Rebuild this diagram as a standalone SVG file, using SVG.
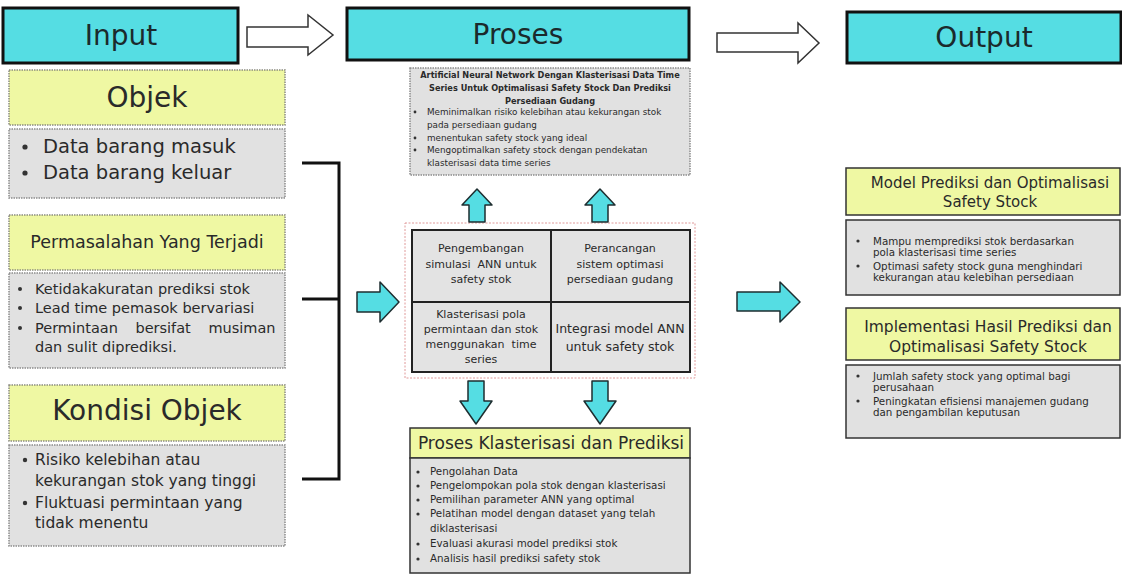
<svg xmlns="http://www.w3.org/2000/svg" width="1122" height="574" viewBox="0 0 1122 574">
<style>
.bg{fill:#ffffff}
.hdr{fill:#55dde3;stroke:#111;stroke-width:3}
.ybox{fill:#eff8a3;stroke:#8c8c80;stroke-width:1.5;stroke-dasharray:1.5 1}
.gbox{fill:#e1e1e1;stroke:#8c8c8c;stroke-width:1.5;stroke-dasharray:1.5 1}
.ybox2{fill:#eff8a3;stroke:#333;stroke-width:1.5}
.gbox2{fill:#e1e1e1;stroke:#333;stroke-width:1.5}
.cell{fill:#e3e3e3;stroke:#222;stroke-width:2}
.cyan{fill:#55dde3;stroke:#1e2e30;stroke-width:1.5;stroke-linejoin:round}
.hollow{fill:#fff;stroke:#333;stroke-width:1.5;stroke-linejoin:miter}
.brk{fill:none;stroke:#111;stroke-width:3}
.dash{fill:none;stroke:#e09a9a;stroke-width:1;stroke-dasharray:2 1.5}
.dot{fill:#333}
text{font-family:"DejaVu Sans","Liberation Sans",sans-serif;fill:#2a2a2a}
.h{font-size:28px;text-anchor:middle;fill:#1b2a2c}
.c{text-anchor:middle}
.pre{white-space:pre}
</style>
<rect class="bg" x="0" y="0" width="1122" height="574"/>

<!-- headers -->
<g id="hdr-input"><rect class="hdr" x="3" y="8" width="235" height="55"/><text class="h" x="121" y="45">Input</text></g>
<g id="hdr-proses"><rect class="hdr" x="347" y="8" width="342" height="52"/><text class="h" x="518" y="44">Proses</text></g>
<g id="hdr-output"><rect class="hdr" x="847" y="12" width="274" height="51"/><text class="h" x="984" y="47">Output</text></g>

<!-- Input column -->
<g id="objek">
<rect class="ybox" x="9" y="70" width="276" height="55"/>
<text class="c" x="147" y="107" style="font-size:28px">Objek</text>
</g>
<g id="objek-list">
<rect class="gbox" x="9" y="129" width="276" height="69"/>
<circle class="dot" cx="25" cy="147" r="2.6"/><text x="43" y="153" style="font-size:19.5px">Data barang masuk</text>
<circle class="dot" cx="25" cy="173" r="2.6"/><text x="43" y="179" style="font-size:19.5px">Data barang keluar</text>
</g>
<g id="permasalahan">
<rect class="ybox" x="9" y="215" width="276" height="55"/>
<text class="c" x="147" y="248" style="font-size:17.5px">Permasalahan Yang Terjadi</text>
</g>
<g id="permasalahan-list" style="font-size:14.5px">
<rect class="gbox" x="9" y="273" width="276" height="95"/>
<circle class="dot" cx="20" cy="289" r="2"/><text x="35" y="294">Ketidakakuratan prediksi stok</text>
<circle class="dot" cx="20" cy="308" r="2"/><text x="35" y="313">Lead time pemasok bervariasi</text>
<circle class="dot" cx="20" cy="328" r="2"/><text x="35" y="333" style="word-spacing:13px">Permintaan bersifat musiman</text>
<text x="35" y="352">dan sulit diprediksi.</text>
</g>
<g id="kondisi">
<rect class="ybox" x="9" y="385" width="276" height="56"/>
<text class="c" x="147" y="420" style="font-size:28px">Kondisi Objek</text>
</g>
<g id="kondisi-list" style="font-size:15.5px">
<rect class="gbox" x="9" y="445" width="276" height="101"/>
<circle class="dot" cx="25" cy="460" r="2.2"/><text x="35" y="465">Risiko kelebihan atau</text>
<text x="35" y="486">kekurangan stok yang tinggi</text>
<circle class="dot" cx="25" cy="503" r="2.2"/><text x="35" y="508">Fluktuasi permintaan yang</text>
<text x="35" y="528">tidak menentu</text>
</g>

<!-- Proses column -->
<g id="proses-top">
<rect class="gbox" x="410" y="68" width="280" height="107"/>
<text class="c" x="550" y="78" style="font-size:8.2px;font-weight:bold">Artificial Neural Network Dengan Klasterisasi Data Time</text>
<text class="c" x="550" y="91" style="font-size:8.2px;font-weight:bold">Series Untuk Optimalisasi Safety Stock Dan Prediksi</text>
<text class="c" x="550" y="104" style="font-size:8.2px;font-weight:bold">Persediaan Gudang</text>
<g style="font-size:8.8px">
<circle class="dot" cx="415" cy="112" r="1.4"/><text x="427" y="115">Meminimalkan risiko kelebihan atau kekurangan stok</text>
<text x="427" y="128">pada persediaan gudang</text>
<circle class="dot" cx="415" cy="138" r="1.4"/><text x="427" y="141">menentukan safety stock yang ideal</text>
<circle class="dot" cx="415" cy="150" r="1.4"/><text x="427" y="153">Mengoptimalkan safety stock dengan pendekatan</text>
<text x="427" y="166">klasterisasi data time series</text>
</g>
</g>

<g id="proses-grid">
<rect class="dash" x="405" y="223" width="290" height="155"/>
<rect class="cell" x="412" y="230" width="139" height="72"/>
<rect class="cell" x="551" y="230" width="139" height="72"/>
<rect class="cell" x="412" y="302" width="139" height="70"/>
<rect class="cell" x="551" y="302" width="139" height="70"/>
<g style="font-size:11px">
<text class="c" x="481" y="252">Pengembangan</text>
<text class="c pre" x="481" y="268">simulasi  ANN untuk</text>
<text class="c" x="481" y="283">safety stok</text>
<text class="c" x="620" y="252">Perancangan</text>
<text class="c" x="620" y="268">sistem optimasi</text>
<text class="c" x="620" y="283">persediaan gudang</text>
<text class="c" x="481" y="318">Klasterisasi pola</text>
<text class="c" x="481" y="333">permintaan dan stok</text>
<text class="c pre" x="481" y="348">menggunakan  time</text>
<text class="c" x="481" y="363">series</text>
</g>
<text class="c" x="620" y="333" style="font-size:12.5px">Integrasi model ANN</text>
<text class="c" x="620" y="351" style="font-size:12.5px">untuk safety stok</text>
</g>

<g id="proses-bottom">
<rect class="ybox2" x="410" y="428" width="280" height="30"/>
<text class="c" x="551" y="449" style="font-size:17px">Proses Klasterisasi dan Prediksi</text>
<rect class="gbox2" x="410" y="458" width="280" height="115"/>
<g style="font-size:10.3px">
<circle class="dot" cx="418" cy="472" r="1.6"/><text x="430" y="475">Pengolahan Data</text>
<circle class="dot" cx="418" cy="486" r="1.6"/><text x="430" y="489">Pengelompokan pola stok dengan klasterisasi</text>
<circle class="dot" cx="418" cy="500" r="1.6"/><text x="430" y="503">Pemilihan parameter ANN yang optimal</text>
<circle class="dot" cx="418" cy="514" r="1.6"/><text x="430" y="517">Pelatihan model dengan dataset yang telah</text>
<text x="430" y="532">diklasterisasi</text>
<circle class="dot" cx="418" cy="544" r="1.6"/><text x="430" y="547">Evaluasi akurasi model prediksi stok</text>
<circle class="dot" cx="418" cy="559" r="1.6"/><text x="430" y="562">Analisis hasil prediksi safety stok</text>
</g>
</g>

<!-- Output column -->
<g id="output-1">
<rect class="ybox2" x="846" y="168" width="274" height="47"/>
<text class="c" x="990" y="188" style="font-size:15px">Model Prediksi dan Optimalisasi</text>
<text class="c" x="990" y="207" style="font-size:15px">Safety Stock</text>
</g>
<g id="output-1-list" style="font-size:10.3px">
<rect class="gbox2" x="846" y="220" width="274" height="75"/>
<circle class="dot" cx="858" cy="241" r="1.6"/><text x="873" y="245">Mampu memprediksi stok berdasarkan</text>
<text x="873" y="256">pola klasterisasi time series</text>
<circle class="dot" cx="858" cy="266" r="1.6"/><text x="873" y="270">Optimasi safety stock guna menghindari</text>
<text x="873" y="281">kekurangan atau kelebihan persediaan</text>
</g>
<g id="output-2">
<rect class="ybox2" x="846" y="308" width="274" height="52"/>
<text class="c" x="988" y="332" style="font-size:15.5px">Implementasi Hasil Prediksi dan</text>
<text class="c" x="988" y="352" style="font-size:15.5px">Optimalisasi Safety Stock</text>
</g>
<g id="output-2-list" style="font-size:10.3px">
<rect class="gbox2" x="846" y="365" width="274" height="73"/>
<circle class="dot" cx="858" cy="376" r="1.6"/><text x="873" y="380">Jumlah safety stock yang optimal bagi</text>
<text x="873" y="391">perusahaan</text>
<circle class="dot" cx="858" cy="401" r="1.6"/><text x="873" y="405">Peningkatan efisiensi manajemen gudang</text>
<text x="873" y="416">dan pengambilan keputusan</text>
</g>

<!-- connectors -->
<g id="connectors">
<polygon class="hollow" points="247,27 308,27 308,15 333,35 308,55 308,47 247,47"/>
<polygon class="hollow" points="717,33 798,33 798,23 819,43 798,63 798,52 717,52"/>
<polyline class="brk" points="302,163 339,163 339,479 302,479"/>
<line class="brk" x1="302" y1="299" x2="339" y2="299"/>
<polygon class="cyan" points="357,292 380,292 380,282 399,302 380,322 380,312 357,312"/>
<polygon class="cyan" points="737,292 780,292 780,282 800,302 780,322 780,311 737,311"/>
<polygon class="cyan" points="477,189 492,205 485,205 485,222 469,222 469,205 462,205"/>
<polygon class="cyan" points="600,189 615,205 608,205 608,222 592,222 592,205 585,205"/>
<polygon class="cyan" points="468,381 484,381 484,401 492,401 476,424 460,401 468,401"/>
<polygon class="cyan" points="592,381 608,381 608,401 616,401 600,424 584,401 592,401"/>
</g>
</svg>
